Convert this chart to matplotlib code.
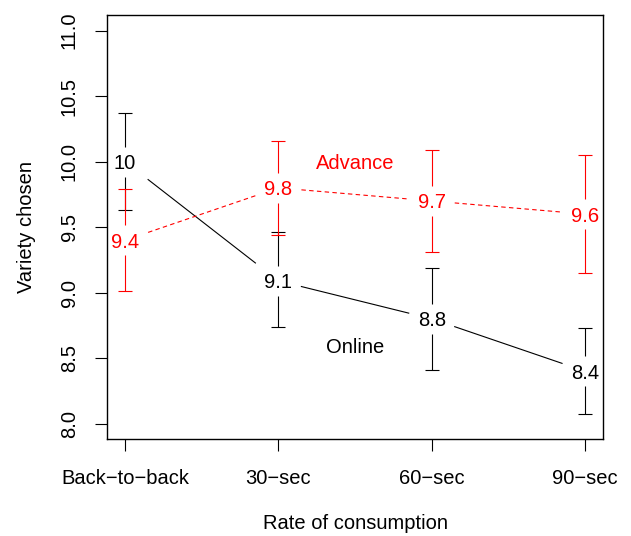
import numpy as np
import matplotlib
matplotlib.use("Agg")
import matplotlib.pyplot as plt

plt.rcParams['font.family'] = ['Liberation Sans', 'DejaVu Sans']
plt.rcParams['font.size'] = 14.5

# rate of consumption conditions
conditions = ['Back\u2212to\u2212back', '30\u2212sec', '60\u2212sec', '90\u2212sec']

# mean variety chosen + interval ends
online_mean = [10.0, 9.09, 8.80, 8.40]
online_lo = [9.63, 8.74, 8.41, 8.07]
online_hi = [10.37, 9.46, 9.19, 8.73]

advance_mean = [9.40, 9.80, 9.70, 9.60]
advance_lo = [9.01, 9.44, 9.31, 9.15]
advance_hi = [9.79, 10.16, 10.09, 10.05]

yticks = [8.0, 8.5, 9.0, 9.5, 10.0, 10.5, 11.0]

gap = 0.115    # room left for the number labels on the bars
trim = 0.15    # room left for the labels on the connecting lines

fig = plt.figure(figsize=(6.31, 5.36), dpi=100)
ax = fig.add_axes([0.1691, 0.1804, 0.7872, 0.7916])

x = np.arange(1, len(conditions) + 1)


def draw_series(mean, lo, hi, color, ls):
    mean = np.asarray(mean)
    # connecting segments, shortened at both ends
    for i in range(len(x) - 1):
        x0, x1 = x[i] + trim, x[i + 1] - trim
        y0 = np.interp(x0, [x[i], x[i + 1]], [mean[i], mean[i + 1]])
        y1 = np.interp(x1, [x[i], x[i + 1]], [mean[i], mean[i + 1]])
        ax.plot([x0, x1], [y0, y1], color=color, lw=0.8, linestyle=ls)
    # error bars broken around the label
    ax.vlines(x, lo, mean - gap, color=color, lw=0.8)
    ax.vlines(x, mean + gap, hi, color=color, lw=0.8)
    ax.plot(x, lo, linestyle='none', marker='_', ms=10, mew=0.8, color=color)
    ax.plot(x, hi, linestyle='none', marker='_', ms=10, mew=0.8, color=color)
    for xi, m in zip(x, mean):
        ax.text(xi, m, '%g' % round(m, 1), color=color,
                ha='center', va='center_baseline')


draw_series(online_mean, online_lo, online_hi, 'black', '-')
draw_series(advance_mean, advance_lo, advance_hi, '#ff0000', (0, (4, 3)))

ax.text(2.5, 10.0, 'Advance', color='#ff0000', ha='center', va='center_baseline')
ax.text(2.5, 8.6, 'Online', color='black', ha='center', va='center_baseline')

ax.set_xlim(0.88, 4.12)
ax.set_ylim(7.88, 11.12)
ax.set_xticks(x)
ax.set_xticklabels(conditions)
ax.set_yticks(yticks)
ax.set_yticklabels(['%.1f' % t for t in yticks], rotation=90, va='center')
ax.tick_params(axis='x', length=8.6, width=0.8, pad=12.8)
ax.tick_params(axis='y', length=8.6, width=0.8, pad=11.4)
for s in ax.spines.values():
    s.set_linewidth(1.0)

ax.set_xlabel('Rate of consumption', labelpad=18.7)
ax.set_ylabel('Variety chosen', labelpad=17.5)

fig.savefig('out.png', dpi=100)
